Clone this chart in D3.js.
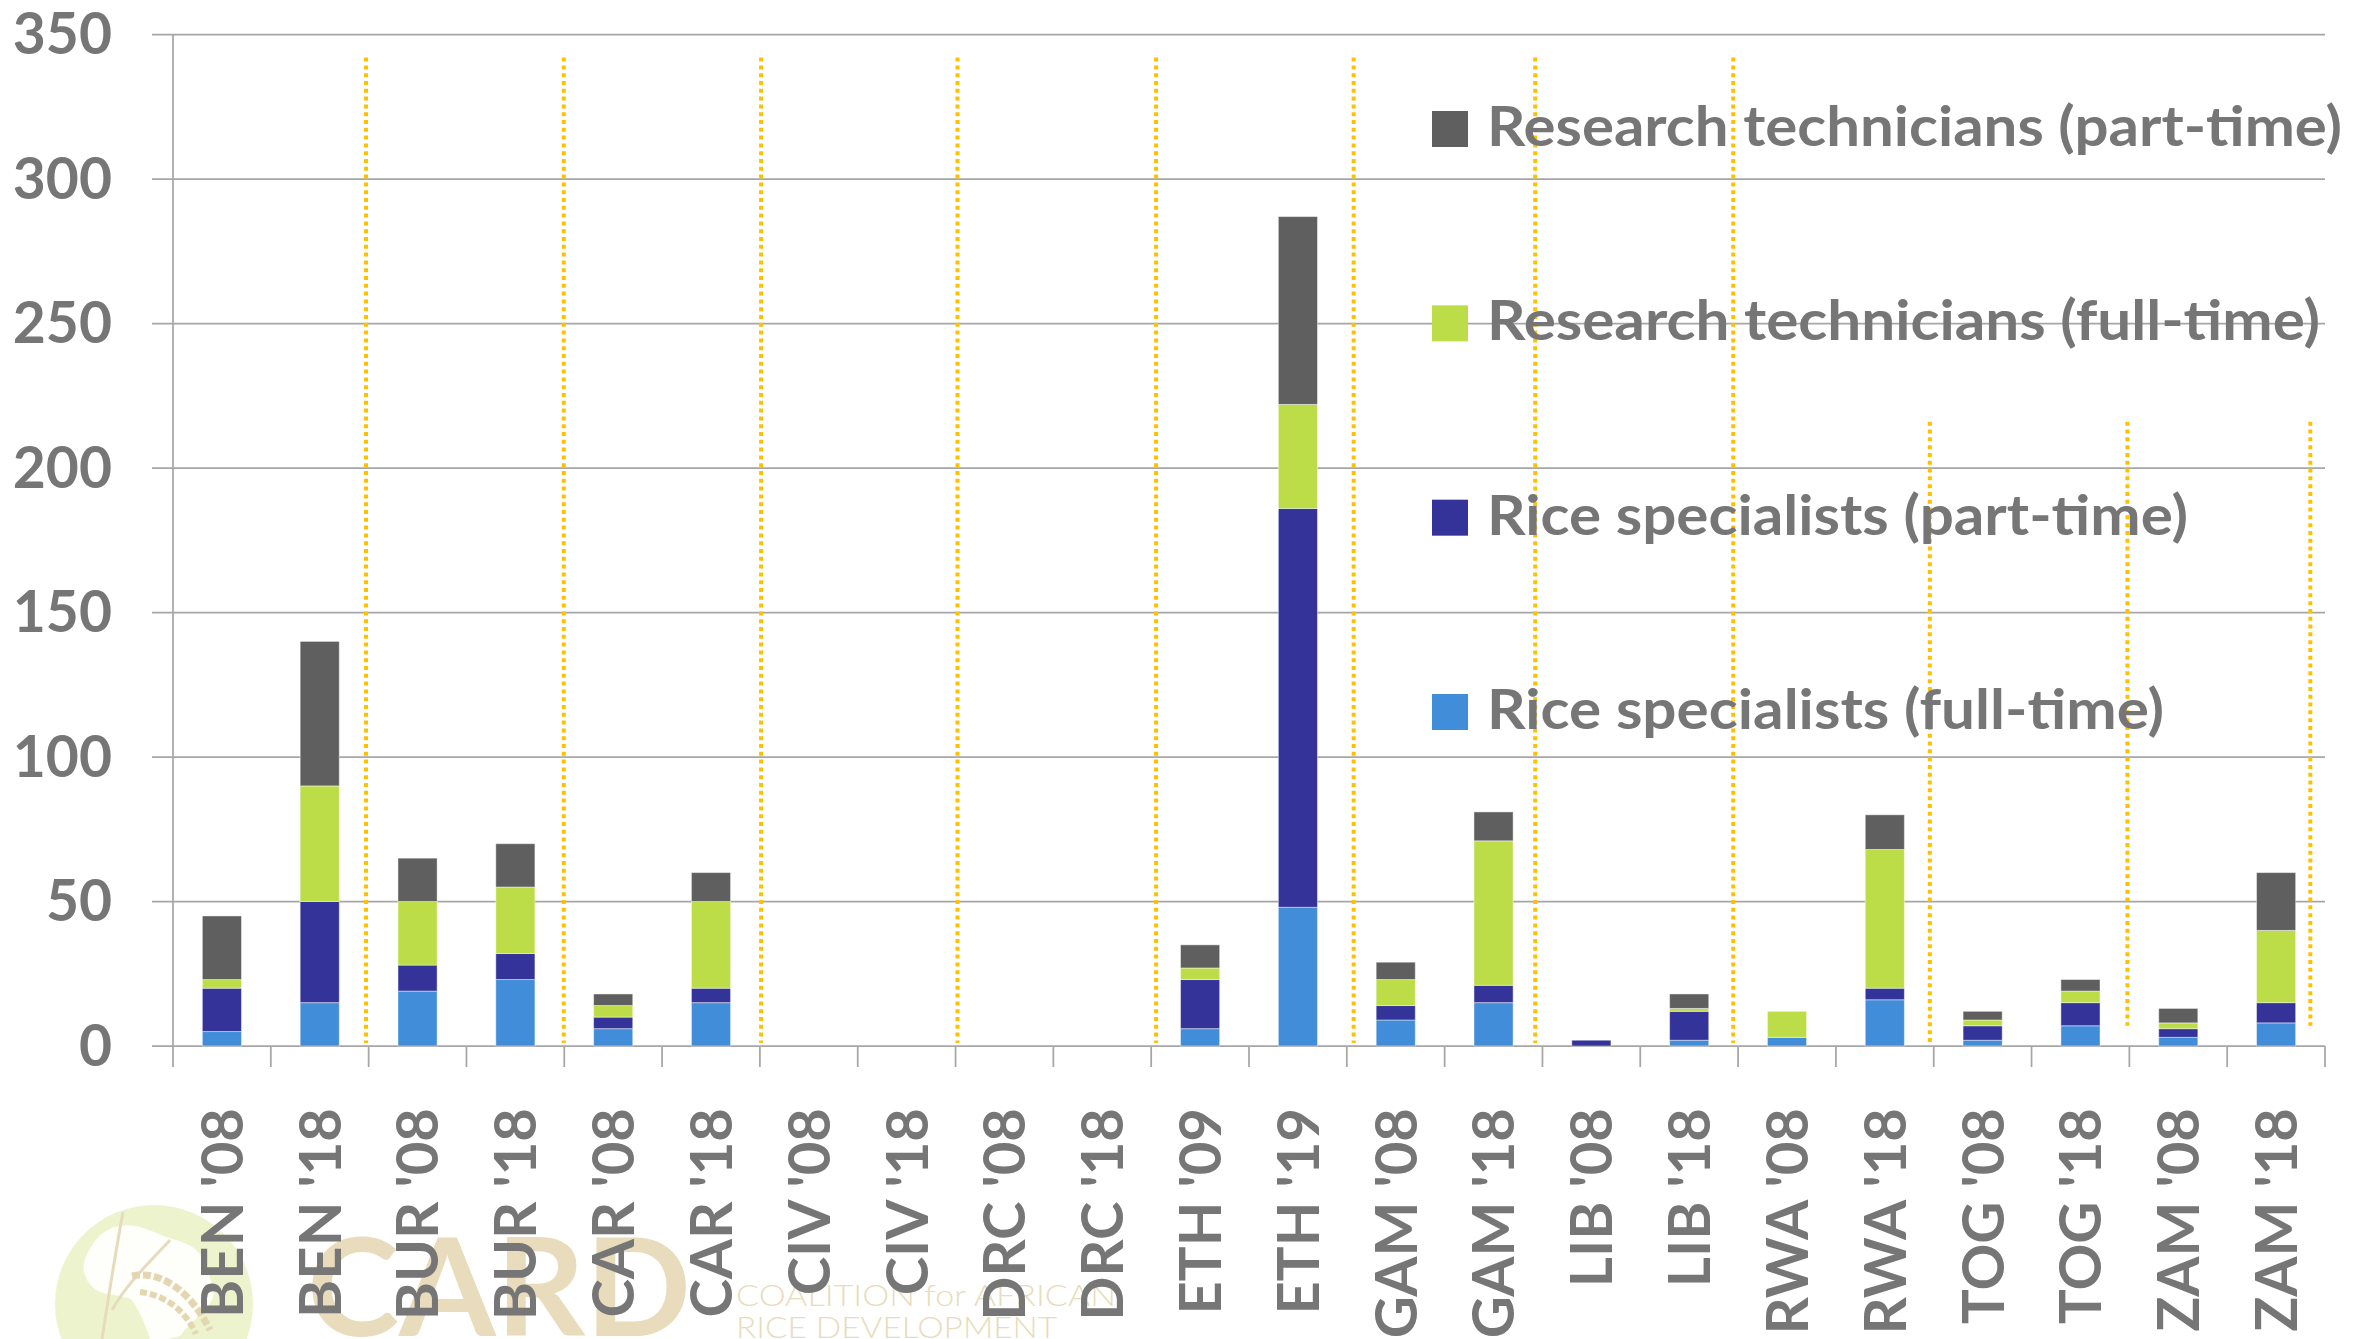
<!DOCTYPE html>
<html>
<head>
<meta charset="utf-8">
<script src="https://cdn.jsdelivr.net/npm/d3@7"></script>
<style>
  html, body { margin: 0; padding: 0; background: #ffffff; }
  svg { display: block; }
</style>
</head>
<body>
<div id="chart"></div>
<script>
// ---------------- DATA ----------------
const categories = ["BEN '08","BEN '18","BUR '08","BUR '18","CAR '08","CAR '18","CIV '08","CIV '18","DRC '08","DRC '18","ETH '09","ETH '19","GAM '08","GAM '18","LIB '08","LIB '18","RWA '08","RWA '18","TOG '08","TOG '18","ZAM '08","ZAM '18"];
const riceFull = [5,15,19,23,6,15,0,0,0,0,6,48,9,15,0,2,3,16,2,7,3,8];
const ricePart = [15,35,9,9,4,5,0,0,0,0,17,138,5,6,2,10,0,4,5,8,3,7];
const techFull = [3,40,22,23,4,30,0,0,0,0,4,36,9,50,0,1,9,48,2,4,2,25];
const techPart = [22,50,15,15,4,10,0,0,0,0,8,65,6,10,0,5,0,12,3,4,5,20];
const seriesNames = ["Rice specialists (full-time)","Rice specialists (part-time)","Research technicians (full-time)","Research technicians (part-time)"];
const yTicks = [0,50,100,150,200,250,300,350];
// country-group separators (position in category units, top value, bottom value)
const sepPos = [1.973,3.995,6.012,8.02,10.05,12.07,13.926,15.95,17.96,19.98,21.85];
const sepTop = [342,342,342,342,342,342,342,342,216,216,216];
const sepBottom = [1,1,1,1,1,1,1,1,1.4,7,7];

// ---------------- STYLE ----------------
const W = 2364, H = 1339;
const colors = ["#428dd9","#343399","#bddd48","#5f5f5f"];
const textColor = "#767676";
const gridColor = "#a6a6a6";
const FONT = "Lato, 'Open Sans', sans-serif";
const legendWidths = [677, 701, 833, 855];

const svg = d3.select("#chart").append("svg").attr("width", W).attr("height", H);

const x0 = 173, x1 = 2325, yTop = 34.5, yBot = 1046;
const x = d3.scaleBand().domain(categories).range([x0, x1]).paddingInner(0.6).paddingOuter(0.3);
const y = d3.scaleLinear().domain([0, 350]).range([yBot, yTop]);
const xIdx = d3.scaleLinear().domain([0, categories.length]).range([x0, x1]);

// ---------------- LOGO (watermark) ----------------
const logo = svg.append("g").attr("class", "logo");
logo.append("circle").attr("cx", 154).attr("cy", 1304).attr("r", 99).attr("fill", "#edf4cd");
logo.append("path")
  .attr("d", "M84,1262 C92,1240 104,1228 120,1226 C140,1222 158,1236 176,1240 C190,1244 200,1250 204,1262 C210,1278 216,1290 212,1300 C204,1314 190,1322 180,1336 L168,1339 L150,1339 C146,1326 140,1312 132,1300 C122,1294 106,1296 96,1290 C86,1282 82,1272 84,1262 Z")
  .attr("fill", "#ffffff").attr("opacity", 0.9);
logo.append("path").attr("d", "M123,1212 C116,1250 108,1300 102,1339")
  .attr("fill", "none").attr("stroke", "#e6dcbd").attr("stroke-width", 3);
logo.append("path").attr("d", "M170,1240 C150,1262 128,1282 112,1310")
  .attr("fill", "none").attr("stroke", "#e6dcbd").attr("stroke-width", 3);
logo.append("path").attr("d", "M132,1276 C160,1270 190,1290 210,1330")
  .attr("fill", "none").attr("stroke", "#e3d6b0").attr("stroke-width", 7).attr("stroke-dasharray", "8 3");
logo.append("path").attr("d", "M140,1292 C165,1295 185,1310 196,1334")
  .attr("fill", "none").attr("stroke", "#e3d6b0").attr("stroke-width", 6).attr("stroke-dasharray", "7 3");
logo.append("text").attr("x", 307).attr("y", 1336).attr("font-family", FONT).attr("font-weight", 700)
  .attr("font-size", 136).attr("fill", "#e8dcbc").attr("textLength", 384).attr("lengthAdjust", "spacingAndGlyphs").text("CARD");
logo.append("text").attr("x", 736).attr("y", 1306).attr("font-family", FONT).attr("font-weight", 300)
  .attr("font-size", 29).attr("fill", "#e8dcba").attr("textLength", 380).attr("lengthAdjust", "spacingAndGlyphs").text("COALITION for AFRICAN");
logo.append("text").attr("x", 736).attr("y", 1338).attr("font-family", FONT).attr("font-weight", 300)
  .attr("font-size", 29).attr("fill", "#e8dcba").attr("textLength", 321).attr("lengthAdjust", "spacingAndGlyphs").text("RICE DEVELOPMENT");

// ---------------- GRID + AXES ----------------
const grid = svg.append("g");
grid.selectAll("line.grid").data(yTicks).join("line")
  .attr("x1", x0 - 21).attr("x2", x1)
  .attr("y1", d => y(d)).attr("y2", d => y(d))
  .attr("stroke", gridColor).attr("stroke-width", 1.75);
grid.append("line").attr("x1", x0).attr("x2", x0).attr("y1", y(350)).attr("y2", yBot + 21)
  .attr("stroke", gridColor).attr("stroke-width", 1.75);
grid.selectAll("line.xt").data(d3.range(1, categories.length + 1)).join("line")
  .attr("x1", d => xIdx(d)).attr("x2", d => xIdx(d))
  .attr("y1", yBot).attr("y2", yBot + 21)
  .attr("stroke", gridColor).attr("stroke-width", 1.75);

// y labels
svg.append("g").selectAll("text").data(yTicks).join("text")
  .attr("x", 112).attr("y", d => y(d)).attr("dy", "0.35em")
  .attr("text-anchor", "end").attr("font-family", FONT).attr("font-weight", 700)
  .attr("font-size", 57).attr("fill", textColor).text(d => d);

// ---------------- SEPARATORS ----------------
svg.append("g").selectAll("line").data(sepPos).join("line")
  .attr("x1", d => xIdx(d)).attr("x2", d => xIdx(d))
  .attr("y1", (d, i) => y(sepTop[i])).attr("y2", (d, i) => y(sepBottom[i]))
  .attr("stroke", "#ffc000").attr("stroke-width", 4).attr("stroke-dasharray", "4 3.8");

// ---------------- BARS ----------------
const rows = categories.map((c, i) => ({cat: c, s0: riceFull[i], s1: ricePart[i], s2: techFull[i], s3: techPart[i]}));
const stack = d3.stack().keys(["s0","s1","s2","s3"])(rows);
svg.append("g").selectAll("g").data(stack).join("g")
  .attr("fill", (d, i) => colors[i])
  .selectAll("rect").data(d => d.filter(v => v[1] - v[0] > 0)).join("rect")
  .attr("x", d => x(d.data.cat)).attr("width", x.bandwidth())
  .attr("y", d => y(d[1])).attr("height", d => y(d[0]) - y(d[1]))
  .attr("stroke", "#ffffff").attr("stroke-opacity", 0.45).attr("stroke-width", 1);

// ---------------- X LABELS ----------------
svg.append("g").selectAll("text").data(categories).join("text")
  .attr("transform", d => `translate(${x(d) + x.bandwidth() / 2},1108) rotate(-90)`)
  .attr("dy", "0.36em").attr("text-anchor", "end")
  .attr("font-family", FONT).attr("font-weight", 700).attr("font-size", 58)
  .attr("fill", textColor).text(d => d);

// ---------------- LEGEND ----------------
const legendOrder = [3, 2, 1, 0];
const lg = svg.append("g");
const legendY = d3.scaleLinear().domain([0, 3]).range([129, 712]);
legendOrder.forEach((si, k) => {
  const cy = legendY(k);
  lg.append("rect").attr("x", 1432).attr("y", cy - 18).attr("width", 36).attr("height", 36).attr("fill", colors[si]);
  lg.append("text").attr("x", 1487).attr("y", cy + 17)
    .attr("font-family", FONT).attr("font-weight", 700).attr("font-size", 56)
    .attr("textLength", legendWidths[si]).attr("lengthAdjust", "spacingAndGlyphs")
    .attr("fill", textColor).text(seriesNames[si]);
});
</script>
</body>
</html>
